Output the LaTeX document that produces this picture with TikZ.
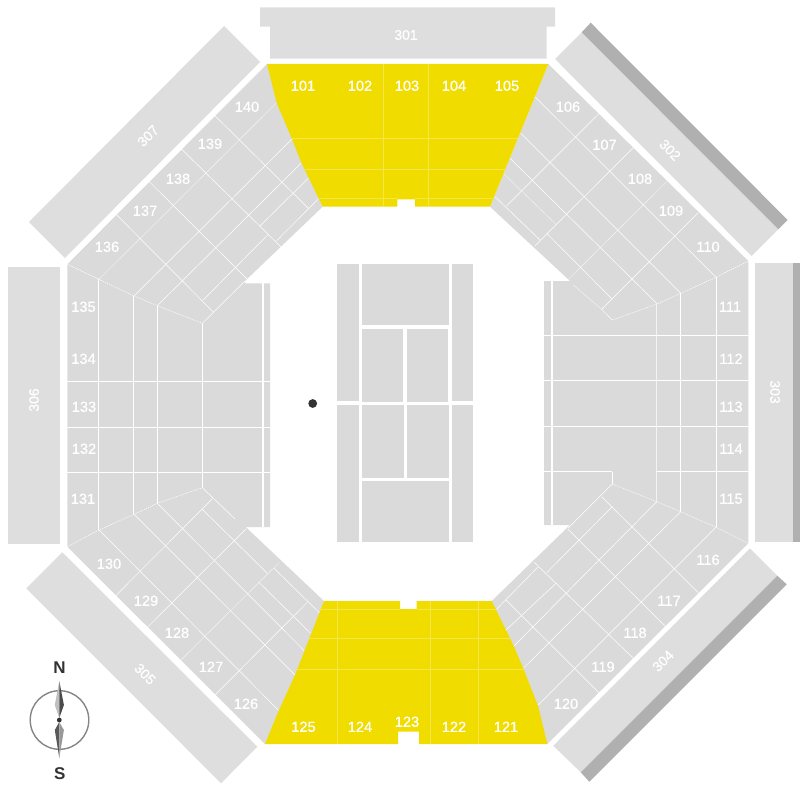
\documentclass[tikz,border=0pt]{standalone}
\usepackage{fontspec}
\setmainfont{Liberation Sans}
\newfontfamily\labfont[FakeBold=0.6]{Liberation Sans}
\definecolor{seatgrey}{HTML}{DADADA}
\definecolor{uppergrey}{HTML}{DEDEDE}
\definecolor{stripgrey}{HTML}{B0B0B0}
\definecolor{gold}{HTML}{F1DC00}
\definecolor{goldline}{HTML}{F5E548}
\definecolor{ink}{HTML}{333333}
\tikzset{
  seat/.style={fill=seatgrey,draw=none},
  upper/.style={fill=uppergrey,draw=none},
  strip/.style={fill=stripgrey,draw=none},
  goldarea/.style={fill=gold,draw=none},
  seam/.style={draw=white,line width=0.5pt},
  seamfaint/.style={draw=white,line width=0.45pt,opacity=0.7},
  seamwide/.style={draw=white,line width=1.6pt},
  seamdash/.style={draw=white,line width=0.5pt,dash pattern=on 1.4pt off 0.9pt},
  goldseam/.style={draw=goldline,line width=0.5pt},
  courtbox/.style={fill=seatgrey,draw=none},
  lab/.style={text=white,font=\labfont\fontsize{14.6}{14.6}\selectfont,inner sep=0pt,yshift=-0.8pt},
  uplab/.style={text=white,font=\labfont\fontsize{14}{14}\selectfont,inner sep=0pt},
  compasslab/.style={text=ink,font=\fontsize{17}{17}\selectfont\bfseries,inner sep=0pt}
}
\begin{document}
\begin{tikzpicture}[x=1pt,y=-1pt]
\useasboundingbox (0,0) rectangle (800,800);
% upper tier
\fill[upper] (260,7.3) -- (555,7.3) -- (555,26.7) -- (546.7,26.7) -- (546.7,58.7) -- (270,58.7) -- (270,26.7) -- (260,26.7) -- cycle;
\fill[upper] (224,26) -- (260,62) -- (65,258) -- (29,222) -- cycle;
\fill[upper] (581.7,32.3) -- (778.3,229.3) -- (751.7,256) -- (555,59) -- cycle;
\fill[strip] (590.7,22.7) -- (787.7,220) -- (778.3,229.3) -- (581.7,32.3) -- cycle;
\fill[upper] (755,262.7) rectangle (792.7,541.7);
\fill[strip] (792.7,262.7) rectangle (800,541.7);
\fill[upper] (750,548.3) -- (777.3,575.7) -- (580.7,772.3) -- (553.3,745.7) -- cycle;
\fill[strip] (777.3,575.7) -- (786.7,584.3) -- (589.3,781.7) -- (580.7,772.3) -- cycle;
\fill[upper] (62.3,552.3) -- (257.3,746.7) -- (221,783.3) -- (26.3,588.3) -- cycle;
\fill[upper] (8,267) rectangle (60,544);
% lower tier
\fill[seat] (267,64) -- (322.7,206.7) -- (245,281) -- (245,283.3) -- (270,283.3) -- (270,527) -- (245.7,527) -- (324,601) -- (297,675) -- (281,711.7) -- (265,744) -- (67.3,546.7) -- (67.3,264.3) -- cycle;
\fill[seat] (548.3,64) -- (748.3,261) -- (748.3,543.3) -- (547.3,744) -- (491.7,601) -- (570,525) -- (544,525) -- (544,281) -- (570,281) -- (490,206.7) -- cycle;
% west block seams
\draw[seam] (67.3,381) -- (270,381) (67.3,427.3) -- (270,427.3) (67.3,472.3) -- (270,472.3);
\draw[seam] (98.5,279.3) -- (98.5,530) (133.7,296) -- (133.7,514.3) (157.3,305.7) -- (157.3,503.3) (202.3,323.3) -- (202.3,487.7);
\draw[seamwide] (263,283.3) -- (263,527);
\draw[seamdash] (67.3,264.3) -- (99,279.3) -- (134,296) -- (157.3,305.7) -- (202.3,323.3);
\draw[seamdash] (67.3,546.7) -- (99,530) -- (134,514.3) -- (157.3,503.3) -- (202.3,487.7);
% NW quadrant
\draw[seam] (215,115.7) -- (308.3,208.3) (181.7,149.3) -- (280.7,246.7) (149.3,181.7) -- (247.3,279.3) (116.7,215) -- (213.3,312);
\draw[seamfaint] (99,279.3) -- (276.7,102.7);
\draw[seam] (134,296) -- (291.7,139.3) (157.3,305.7) -- (301,163.3) (203.3,300) -- (268.3,234.3) (260,226) -- (308.3,178.3) (276.7,240.7) -- (318.3,199) (202.3,323.3) -- (245,281);
% SW quadrant
\draw[seam] (99,530) -- (278.3,710) (134,514.3) -- (295,675) (157.3,503.3) -- (304.3,650.7) (202.3,509.3) -- (267.3,573.3) (259.3,582.7) -- (310.7,633.3) (202.3,487.7) -- (235,519) (274,568.3) -- (320,613.3);
\draw[seam] (115.7,595.7) -- (212.3,499) (147.3,627.3) -- (245.7,529.3) (215,695) -- (307.3,602.3);
\draw[seamfaint] (181,660) -- (279.3,562.3);
% east block seams
\draw[seam] (544,335) -- (748.3,335) (544,380.3) -- (748.3,380.3) (544,426) -- (748.3,426) (544,471.7) -- (612.3,471.7) (656.7,471.7) -- (748.3,471.7);
\draw[seam] (612.3,471.7) -- (612.3,484);
\draw[seam] (716,277.3) -- (716,527.3) (680.7,293.3) -- (680.7,511.7);
\draw[seamfaint] (656.7,304) -- (656.7,501.7);
\draw[seamwide] (551.7,281) -- (551.7,525);
\draw[seamdash] (748.3,261) -- (716,277.3) -- (680.7,293.3) -- (657.3,304) -- (612.3,320);
\draw[seamdash] (612.3,484) -- (656.7,501.7) -- (680.7,511.7) -- (716,527.3) -- (748.3,543.3);
% NE quadrant
\draw[seam] (599.3,113.3) -- (506.7,205.7) (633.3,147.7) -- (535,245.7) (698.3,212.7) -- (601.7,309.3);
\draw[seamfaint] (666.7,181.7) -- (568.3,279.3);
\draw[seam] (535,96.7) -- (716,277.3) (520.7,133.3) -- (680.7,293.3) (510,158.3) -- (657.3,304) (546.7,233.3) -- (612,299) (495,196.7) -- (540,240) (601.7,309.3) -- (612.3,320);
\draw[seamfaint] (503.3,173.3) -- (556.7,225) (573.3,285) -- (601.7,309.3);
% SE quadrant
\draw[seam] (698.3,592.7) -- (601.7,496.7) (665,626) -- (567.7,529) (633.3,658.3) -- (534.3,562.3) (599,692.7) -- (506,600);
\draw[seam] (716,527.3) -- (538.3,705) (680.7,511.7) -- (523.3,668.3) (656.7,501.7) -- (514,646) (612.3,506.7) -- (546.7,572.7) (556.7,582.7) -- (506,630) (538.3,566.7) -- (496.7,609) (612.3,484) -- (568,528.3);
% gold stands
\fill[goldarea] (267,64) -- (548.3,64) -- (490,206.7) -- (415,206.7) -- (415,199.3) -- (397.3,199.3) -- (397.3,206.7) -- (322.7,206.7) -- (301.7,163.3) -- (291.7,138.3) -- (276.7,103) -- cycle;
\fill[goldarea] (324,601) -- (400,601) -- (400,609) -- (416.7,609) -- (416.7,601) -- (491.7,601) -- (513.3,645) -- (523.3,668.3) -- (538.3,706.7) -- (547.3,744) -- (419,744) -- (419,731.7) -- (398,731.7) -- (398,744) -- (265,744) -- (278.3,711.7) -- (295,675) -- cycle;
\begin{scope}
\clip (267,64) -- (548.3,64) -- (490,206.7) -- (322.7,206.7) -- (301.7,163.3) -- (291.7,138.3) -- (276.7,103) -- cycle;
\draw[goldseam] (260,138.3) -- (550,138.3) (260,169.3) -- (550,169.3) (260,198.3) -- (397.3,198.3) (415,198.3) -- (550,198.3);
\draw[goldseam] (383.3,64) -- (383.3,207) (428.3,64) -- (428.3,207);
\end{scope}
\begin{scope}
\clip (324,601) -- (491.7,601) -- (513.3,645) -- (523.3,668.3) -- (538.3,706.7) -- (547.3,744) -- (265,744) -- (278.3,711.7) -- (295,675) -- cycle;
\draw[goldseam] (260,609.3) -- (400,609.3) (416.7,609.3) -- (550,609.3) (260,638.3) -- (550,638.3) (260,669.3) -- (550,669.3);
\draw[goldseam] (337.3,601) -- (337.3,744) (430.7,601) -- (430.7,744) (478.3,601) -- (478.3,744);
\end{scope}
% court
\fill[courtbox] (336.7,264) rectangle (358.7,401);
\fill[courtbox] (336.7,405.3) rectangle (358.7,542);
\fill[courtbox] (451.7,264) rectangle (473.3,401);
\fill[courtbox] (451.7,405.3) rectangle (473.3,542);
\fill[courtbox] (361.7,264) rectangle (448.7,325);
\fill[courtbox] (361.7,329) rectangle (403,401.7);
\fill[courtbox] (407,329) rectangle (448.3,401.7);
\fill[courtbox] (362,404.7) rectangle (403.7,477.7);
\fill[courtbox] (407,404.7) rectangle (448.7,477.7);
\fill[courtbox] (361.7,481.3) rectangle (448.7,542);
\fill[ink] (312.7,403.5) circle (4.4);
% compass
\draw[draw=black!48,line width=1.4pt] (59.5,720) circle (29.3);
\fill[black!25] (59.3,681) -- (54.8,705) -- (59.3,718) -- cycle;
\fill[black!70] (59.3,681) -- (63.9,705) -- (59.3,718) -- cycle;
\fill[black!65] (59.3,758) -- (54.8,730) -- (59.3,722) -- cycle;
\fill[black!40] (59.3,758) -- (63.9,730) -- (59.3,722) -- cycle;
\fill[ink] (59.3,720) circle (2.4);
\node[compasslab] (north) at (59.5,668) {N};
\node[compasslab] (south) at (59.7,774) {S};
% section labels
\foreach \n/\x/\y in {101/303/85,102/360/85,103/407/85,104/454/85,105/507/85,
 125/303.5/726,124/360/726,123/407/721,122/454/726,121/506/726,
 140/247/106,139/210/143,138/178/178,137/145/210,136/107/246,
 135/83.5/306,134/83.5/358,133/84/406,132/84/448,131/83/498,
 130/109/563,129/146/600,128/177/632,127/211/666,126/246/703,
 106/568/106,107/604.5/144,108/640/178,109/671/210,110/708/246,
 111/730/306,112/731/358,113/731/406,114/731/448,115/731/498,
 116/708/559,117/669/600,118/635/632,119/603/666,120/566/703}
  \node[lab] (s\n) at (\x,\y) {\n};
\node[uplab] (s301) at (406,35) {301};
\node[uplab,rotate=-45] (s302) at (670,150) {302};
\node[uplab,rotate=-90] (s303) at (775,392) {303};
\node[uplab,rotate=45] (s304) at (663,661) {304};
\node[uplab,rotate=-45] (s305) at (145,674) {305};
\node[uplab,rotate=90] (s306) at (34,400) {306};
\node[uplab,rotate=45] (s307) at (148,136) {307};
\end{tikzpicture}
\end{document}
